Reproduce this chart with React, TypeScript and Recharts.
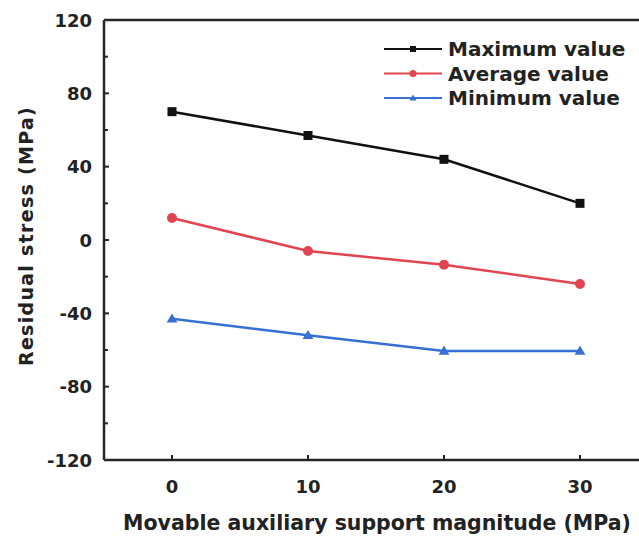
import React from 'react';
import { LineChart, Line, XAxis, YAxis, ReferenceLine, Legend } from 'recharts';

const supportMagnitude = [0, 10, 20, 30];
const maximumValue = [70, 57, 44, 20];
const averageValue = [12, -6, -13.5, -24];
const minimumValue = [-43, -52, -60.5, -60.5];

const xTicks = [0, 10, 20, 30];
const yTicks = [-120, -100, -80, -60, -40, -20, 0, 20, 40, 60, 80, 100, 120];

const SERIES = [
  { key: 'max', name: 'Maximum value', color: '#111111', shape: 'square' },
  { key: 'avg', name: 'Average value', color: '#e2454f', shape: 'circle' },
  { key: 'min', name: 'Minimum value', color: '#3570d2', shape: 'triangle' },
];

const data = supportMagnitude.map((x, i) => ({
  x,
  max: maximumValue[i],
  avg: averageValue[i],
  min: minimumValue[i],
}));

const FONT = '"DejaVu Sans", sans-serif';
const AXIS = '#262626';
const PLOT_LEFT = 104;
const PLOT_TOP = 20;
const PLOT_BOTTOM = 460;

const Marker = ({ cx, cy, shape, color, size }: any) => {
  if (cx == null || cy == null) return null;
  if (shape === 'square') {
    return <rect x={cx - size} y={cy - size} width={size * 2} height={size * 2} fill={color} />;
  }
  if (shape === 'circle') {
    return <circle cx={cx} cy={cy} r={size + 0.5} fill={color} />;
  }
  const h = size * 1.2;
  return (
    <path
      d={`M${cx},${cy - h} L${cx + h},${cy + h * 0.7} L${cx - h},${cy + h * 0.7} Z`}
      fill={color}
    />
  );
};

const YTick = ({ y, payload }: any) => {
  const major = payload.value % 40 === 0;
  return (
    <g>
      <line x1={PLOT_LEFT} x2={PLOT_LEFT + (major ? 5 : 4)} y1={y} y2={y} stroke={AXIS} strokeWidth={2} />
      {major && (
        <text
          x={PLOT_LEFT - 12}
          y={y}
          textAnchor="end"
          dominantBaseline="central"
          fontFamily={FONT}
          fontWeight="bold"
          fontSize={18}
          fill="#222"
        >
          {payload.value}
        </text>
      )}
    </g>
  );
};

const XTick = ({ x, payload }: any) => (
  <g>
    <line x1={x} x2={x} y1={PLOT_BOTTOM} y2={PLOT_BOTTOM - 5} stroke={AXIS} strokeWidth={2} />
    <text
      x={x}
      y={PLOT_BOTTOM + 26}
      textAnchor="middle"
      dominantBaseline="central"
      fontFamily={FONT}
      fontWeight="bold"
      fontSize={18}
      fill="#222"
    >
      {payload.value}
    </text>
  </g>
);

const LegendBox = () => (
  <svg width={260} height={80}>
    {SERIES.map((s, i) => {
      const cy = 14 + i * 24.5;
      return (
        <g key={s.key}>
          <line x1={4} x2={62} y1={cy} y2={cy} stroke={s.color} strokeWidth={2} />
          <Marker cx={33} cy={cy} shape={s.shape} color={s.color} size={3} />
          <text
            x={68}
            y={cy}
            dominantBaseline="central"
            fontFamily={FONT}
            fontWeight="bold"
            fontSize={20}
            fill="#222"
          >
            {s.name}
          </text>
        </g>
      );
    })}
  </svg>
);

export default function App() {
  return (
    <div
      style={{
        position: 'fixed',
        left: 0,
        top: 0,
        width: 639,
        height: 537,
        overflow: 'hidden',
        background: '#fff',
      }}
    >
      <LineChart
        width={660}
        height={537}
        data={data}
        margin={{ top: PLOT_TOP, right: 12, bottom: 0, left: 0 }}
      >
        <XAxis
          dataKey="x"
          type="number"
          domain={[-5, 35]}
          ticks={xTicks}
          height={537 - PLOT_BOTTOM}
          axisLine={{ stroke: AXIS, strokeWidth: 2.5 }}
          tickLine={false}
          tick={<XTick />}
          label={{
            value: 'Movable auxiliary support magnitude (MPa)',
            content: () => (
              <text
                x={377}
                y={523}
                textAnchor="middle"
                dominantBaseline="central"
                fontFamily={FONT}
                fontWeight="bold"
                fontSize={20.5}
                fill="#222"
              >
                Movable auxiliary support magnitude (MPa)
              </text>
            ),
          }}
        />
        <YAxis
          type="number"
          domain={[-120, 120]}
          ticks={yTicks}
          interval={0}
          width={PLOT_LEFT}
          axisLine={{ stroke: AXIS, strokeWidth: 2.5 }}
          tickLine={false}
          tick={<YTick />}
          label={{
            value: 'Residual stress (MPa)',
            content: () => (
              <text
                x={26}
                y={236}
                transform="rotate(-90 26 236)"
                textAnchor="middle"
                dominantBaseline="central"
                fontFamily={FONT}
                fontWeight="bold"
                fontSize={19}
                letterSpacing={1.3}
                fill="#222"
              >
                Residual stress (MPa)
              </text>
            ),
          }}
        />
        <ReferenceLine y={120} stroke={AXIS} strokeWidth={2.5} />
        <Legend
          layout="vertical"
          align="center"
          verticalAlign="middle"
          wrapperStyle={{ left: 380, top: 35, width: 260, height: 80 }}
          content={() => <LegendBox />}
        />
        {SERIES.map((s) => (
          <Line
            key={s.key}
            dataKey={s.key}
            name={s.name}
            stroke={s.color}
            strokeWidth={2.5}
            isAnimationActive={false}
            dot={(p: any) => <Marker key={`${s.key}-${p.index}`} cx={p.cx} cy={p.cy} shape={s.shape} color={s.color} size={4.5} />}
          />
        ))}
      </LineChart>
    </div>
  );
}
